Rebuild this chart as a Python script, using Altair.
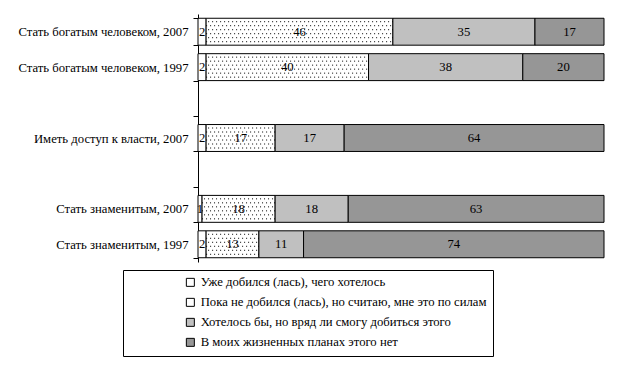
import altair as alt
import pandas as pd

categories = [
    "Стать богатым человеком, 2007",
    "Стать богатым человеком, 1997",
    " ",
    "Иметь доступ к власти, 2007",
    "  ",
    "Стать знаменитым, 2007",
    "Стать знаменитым, 1997",
]
series = [
    "Уже добился (лась), чего хотелось",
    "Пока не добился (лась), но считаю, мне это по силам",
    "Хотелось бы, но вряд ли смогу добиться этого",
    "В моих жизненных планах этого нет",
]
rows = [
    "Стать богатым человеком, 2007",
    "Стать богатым человеком, 1997",
    "Иметь доступ к власти, 2007",
    "Стать знаменитым, 2007",
    "Стать знаменитым, 1997",
]
already = [2, 2, 2, 1, 2]
not_yet = [46, 40, 17, 18, 13]
unlikely = [35, 38, 17, 18, 11]
not_in_plans = [17, 20, 64, 63, 74]
colors = ["#FFFFFF", "#FFFFFF", "#C0C0C0", "#969696"]

FONT = "Liberation Serif"
FS = 12.7

records = []
for i, cat in enumerate(rows):
    vals = [already[i], not_yet[i], unlikely[i], not_in_plans[i]]
    start = 0
    for j, v in enumerate(vals):
        records.append({"cat": cat, "series": series[j], "order": j,
                        "start": start, "end": start + v, "mid": start + v / 2,
                        "value": v})
        start += v
df = pd.DataFrame(records)
dotted_df = df[df["order"] == 1]

y_enc = alt.Y(
    "cat:N",
    sort=categories,
    scale=alt.Scale(domain=categories, paddingInner=0.24, paddingOuter=0.12),
    axis=alt.Axis(
        title=None,
        labelFont=FONT,
        labelFontSize=FS,
        labelColor="black",
        labelPadding=5,
        tickSize=5,
        tickBand="extent",
        tickColor="black",
        domainColor="black",
        grid=False,
        minExtent=185,
    ),
)
x_scale = alt.Scale(domain=[0, 100], nice=False)

bars = alt.Chart(df).mark_bar(stroke="black", strokeWidth=1).encode(
    y=y_enc,
    x=alt.X("start:Q", scale=x_scale, axis=None),
    x2="end:Q",
    fill=alt.Fill(
        "series:N",
        sort=series,
        scale=alt.Scale(domain=series, range=colors),
        legend=alt.Legend(
            title=None,
            orient="none",
            legendX=-75,
            legendY=256,
            direction="vertical",
            strokeColor="black",
            padding=6,
            symbolOffset=55,
            labelFont=FONT,
            labelFontSize=FS,
            labelColor="black",
            labelLimit=400,
            symbolType="square",
            symbolSize=64,
            symbolStrokeColor="black",
            symbolStrokeWidth=1,
            rowPadding=6,
        ),
    ),
)

dot_layers = []
for k, off in enumerate([-10, -6, -2, 2, 6, 10]):
    dot_layers.append(
        alt.Chart(dotted_df).mark_rule(
            color="black", strokeWidth=1, strokeDash=[1, 3],
            strokeDashOffset=(k % 2) * 2 - 2, yOffset=off,
        ).encode(
            y=alt.Y("cat:N", sort=categories),
            x=alt.X("start:Q"),
            x2="end:Q",
        )
    )

labels = alt.Chart(df).mark_text(
    font=FONT, fontSize=FS, color="black", baseline="middle", align="center"
).encode(
    y=alt.Y("cat:N", sort=categories),
    x=alt.X("mid:Q"),
    text="value:Q",
)

chart = alt.layer(bars, *dot_layers, labels).properties(
    width=406,
    height=248,
    padding={"left": 5, "top": 0, "right": 5, "bottom": 0},
).configure_view(strokeWidth=0)

chart.save("out.html", embed_options={"renderer": "svg", "actions": False})
